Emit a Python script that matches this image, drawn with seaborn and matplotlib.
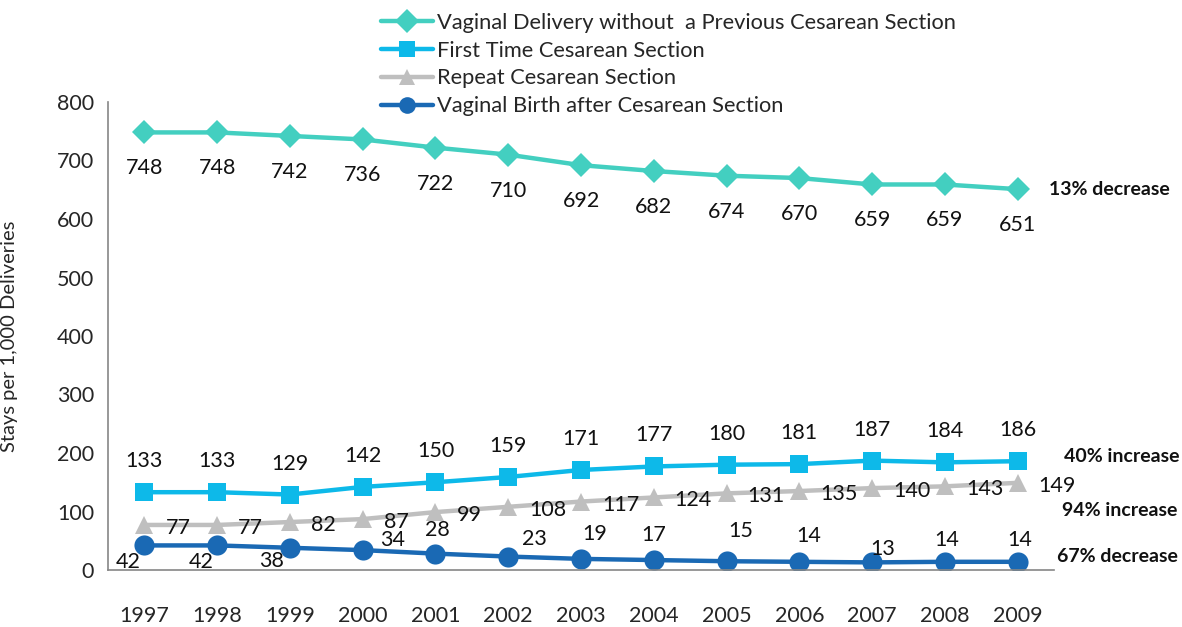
import pandas as pd
import matplotlib
matplotlib.use("Agg")
import matplotlib.pyplot as plt
from matplotlib.ticker import MultipleLocator
import seaborn as sns

# Data
years = [1997, 1998, 1999, 2000, 2001, 2002, 2003, 2004, 2005, 2006, 2007, 2008, 2009]
vaginal_no_prev = [748, 748, 742, 736, 722, 710, 692, 682, 674, 670, 659, 659, 651]
first_cesarean = [133, 133, 129, 142, 150, 159, 171, 177, 180, 181, 187, 184, 186]
repeat_cesarean = [77, 77, 82, 87, 99, 108, 117, 124, 131, 135, 140, 143, 149]
vbac = [42, 42, 38, 34, 28, 23, 19, 17, 15, 14, 13, 14, 14]

series_names = [
    "Vaginal Delivery without  a Previous Cesarean Section",
    "First Time Cesarean Section",
    "Repeat Cesarean Section",
    "Vaginal Birth after Cesarean Section",
]
change_notes = ["13% decrease", "40% increase", "94% increase", "67% decrease"]

colors = ["#43CFC0", "#0DB9E9", "#BFBFBF", "#1A69B4"]
markers = ["D", "s", "^", "o"]

all_values = [vaginal_no_prev, first_cesarean, repeat_cesarean, vbac]
df = pd.concat(
    [pd.DataFrame({"year": years, "value": vals, "series": name})
     for name, vals in zip(series_names, all_values)],
    ignore_index=True,
)

sns.set_style("white")
plt.rcParams["font.family"] = ["Lato", "DejaVu Sans"]

fig = plt.figure(figsize=(11.82, 6.27), dpi=100)
ax = fig.add_axes([108 / 1182, 1 - 570 / 627, 946 / 1182, 468 / 627])

sns.lineplot(
    data=df, x="year", y="value", hue="series", style="series",
    hue_order=series_names, style_order=series_names,
    palette=dict(zip(series_names, colors)),
    markers=dict(zip(series_names, markers)),
    dashes=False, linewidth=3.2, markersize=12, markeredgewidth=0,
    ax=ax, legend=True,
)
# marker size per shape
marker_size = {"D": 12, "s": 13.5, "^": 13, "o": 14.5}
for line, m in zip(ax.lines[:4], markers):
    line.set_markersize(marker_size[m])

# data labels (offsets in pixels)
def label_points(vals, dx, dy, ha="center", va="center"):
    for x, v, ox, oy in zip(years, vals, dx, dy):
        ax.annotate(str(v), (x, v), xytext=(ox, oy), textcoords="offset pixels",
                    ha=ha, va=va, fontsize=15.5, color="#111111")

n = len(years)
label_points(vaginal_no_prev, [0] * n, [-36] * n)
label_points(first_cesarean, [0] * n, [31] * n)
label_points(repeat_cesarean, [21] * n, [-3] * n, ha="left")
vbac_dx = [-16, -16, -18, 30, 2, 26, 14, 0, 14, 9, 11, 2, 2]
vbac_dy = [-17, -17, -13, 10, 24, 18, 25, 25, 30, 26, 13, 22, 22]
label_points(vbac, vbac_dx, vbac_dy)

# change notes to the right of the last point
note_dx = [31, 46, 44, 39]
note_dy = [0, 5, -28, 5]
for vals, note, ox, oy in zip(all_values, change_notes, note_dx, note_dy):
    ax.annotate(note, (years[-1], vals[-1]), xytext=(ox, oy), textcoords="offset pixels",
                ha="left", va="center", fontsize=14, fontweight="bold", color="#111111",
                annotation_clip=False)

ax.set_xlim(1996.5, 2009.5)
ax.set_ylim(0, 800)
ax.yaxis.set_major_locator(MultipleLocator(100))
ax.set_xticks(years)
ax.set_xticks([y + 0.5 for y in [1996] + years], minor=True)
ax.tick_params(axis="x", which="major", length=0, pad=26, labelsize=15.5)
ax.tick_params(axis="x", which="minor", length=6, color="#868686", width=1, direction="out")
ax.tick_params(axis="y", length=5, color="#868686", width=1, direction="out", labelsize=15.5, pad=5)
ax.set_xlabel("")
ax.set_ylabel("Stays per 1,000 Deliveries", fontsize=14.5)
ax.yaxis.set_label_coords(-0.095, 0.5)

sns.despine(ax=ax)
for side in ["left", "bottom"]:
    ax.spines[side].set_color("#868686")
    ax.spines[side].set_linewidth(1.2)

handles, labels = ax.get_legend_handles_labels()
ax.legend_.remove()
fig.legend(handles, labels, loc="upper left", bbox_to_anchor=(372 / 1182, 1 - 4 / 627),
           frameon=False, fontsize=15.75, handlelength=2.4, handletextpad=0.15,
           labelspacing=0.36, borderaxespad=0)

fig.savefig("out.png", dpi=100)
